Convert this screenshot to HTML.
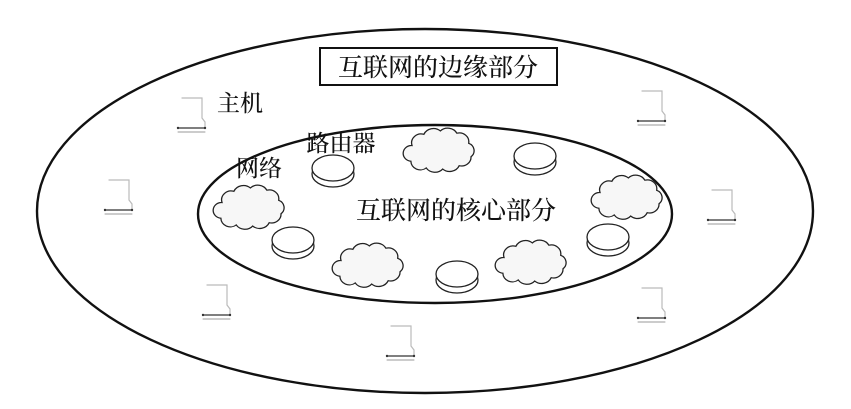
<!DOCTYPE html>
<html><head><meta charset="utf-8"><style>
body{margin:0;background:#fff;}
svg{display:block;}
text{font-family:"Noto Serif CJK SC","WenQuanYi Zen Hei",serif;fill:#111;font-weight:500;}
</style></head><body>
<svg width="851" height="409" viewBox="0 0 851 409" xmlns="http://www.w3.org/2000/svg">
<defs>
<g id="cloud">
<path transform="scale(1.18,1.12)" d="M-22,-4 a8,8 0 0 1 10,-10 a9,9 0 0 1 14,-3 a9,9 0 0 1 14,2 a8,8 0 0 1 10,9 a7,7 0 0 1 2,12 a8,8 0 0 1 -10,8 a9,9 0 0 1 -14,3 a9,9 0 0 1 -14,-1 a8,8 0 0 1 -13,-6 a7,7 0 0 1 1,-14 z" fill="#f7f7f7" stroke="#222" stroke-width="1.1"/>
</g>
<g id="router">
<ellipse cx="0" cy="4" rx="21" ry="13" fill="#fff" stroke="#222" stroke-width="1.3"/>
<ellipse cx="0" cy="-2" rx="21" ry="13" fill="#fff" stroke="#222" stroke-width="1.3"/>
</g>
<g id="host" fill="none" stroke-linecap="round">
<path d="M-14,-22 H6 V-2 L9,2 V8" stroke="#bbb" stroke-width="1.2"/>
<path d="M-18,8 H9" stroke="#333" stroke-width="1.2"/>
<path d="M-18,12 H9" stroke="#999" stroke-width="1"/>
<circle cx="-18" cy="8" r="1.2" fill="#333"/><circle cx="9" cy="8" r="1.2" fill="#333"/>
</g>
</defs>
<ellipse cx="425" cy="211" rx="388" ry="182" fill="none" stroke="#111" stroke-width="2.4"/>
<ellipse cx="435" cy="214" rx="237" ry="89" fill="none" stroke="#111" stroke-width="2.4"/>
<rect x="320" y="48" width="237" height="37" fill="#fff" stroke="#111" stroke-width="2"/>
<text x="438" y="76" font-size="25" text-anchor="middle">互联网的边缘部分</text>
<text x="240" y="111" font-size="23" text-anchor="middle">主机</text>
<text x="341" y="151" font-size="23" text-anchor="middle">路由器</text>
<text x="259" y="176" font-size="23" text-anchor="middle">网络</text>
<text x="456" y="219" font-size="25" text-anchor="middle">互联网的核心部分</text>
<use href="#cloud" x="248" y="207"/>
<use href="#cloud" x="438" y="150"/>
<use href="#cloud" x="626" y="197"/>
<use href="#cloud" x="367" y="265"/>
<use href="#cloud" x="530" y="262"/>
<use href="#router" x="333" y="170"/>
<use href="#router" x="535" y="158"/>
<use href="#router" x="293" y="242"/>
<use href="#router" x="457" y="276"/>
<use href="#router" x="608" y="239"/>
<use href="#host" x="196" y="120"/>
<use href="#host" x="656" y="113"/>
<use href="#host" x="726" y="212"/>
<use href="#host" x="656" y="310"/>
<use href="#host" x="123" y="202"/>
<use href="#host" x="221" y="307"/>
<use href="#host" x="405" y="348"/>
</svg>
</body></html>
